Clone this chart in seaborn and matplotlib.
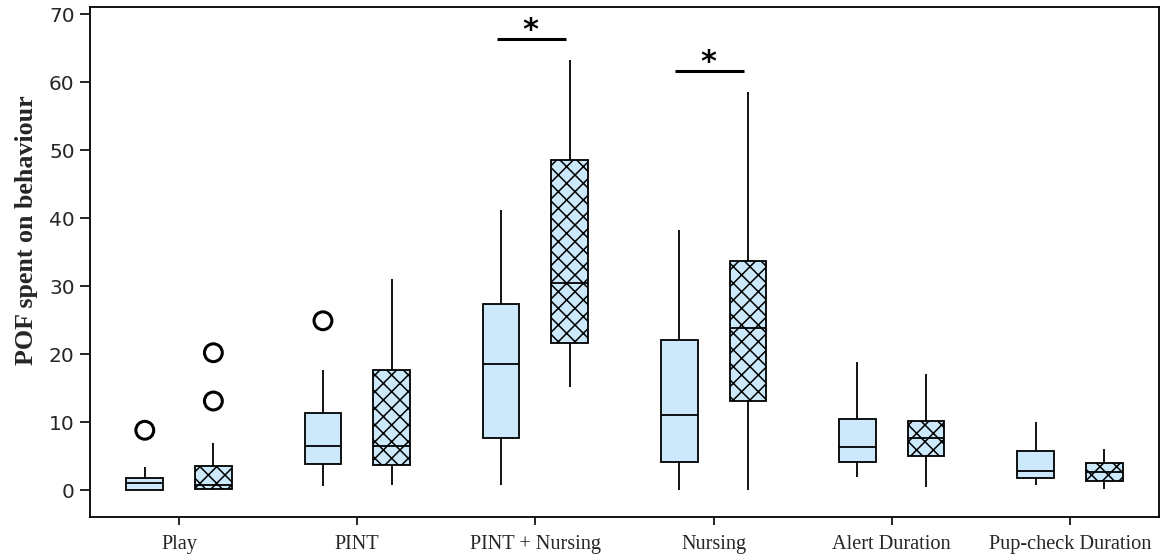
import matplotlib
matplotlib.use("Agg")
import matplotlib.pyplot as plt
import numpy as np
import pandas as pd
import seaborn as sns

# Behaviour categories along the x axis
behaviours = ["Play", "PINT", "PINT + Nursing", "Nursing",
              "Alert Duration", "Pup-check Duration"]
groups = ["Group 1", "Group 2"]

# Five-number summaries (lower whisker, Q1, median, Q3, upper whisker)
group1_stats = [
    [0.0, 0.0, 1.1, 1.8, 3.4],     # Play
    [0.6, 3.9, 6.5, 11.4, 17.7],   # PINT
    [0.7, 7.6, 18.6, 27.4, 41.2],  # PINT + Nursing
    [0.0, 4.2, 11.0, 22.0, 38.2],  # Nursing
    [1.9, 4.1, 6.3, 10.5, 18.9],   # Alert Duration
    [0.7, 1.8, 2.8, 5.8, 10.0],    # Pup-check Duration
]
group2_stats = [
    [0.0, 0.2, 0.8, 3.5, 6.9],     # Play
    [0.7, 3.7, 6.5, 17.6, 31.1],   # PINT
    [15.2, 21.7, 30.4, 48.6, 63.2],  # PINT + Nursing
    [0.0, 13.1, 23.9, 33.7, 58.6],   # Nursing
    [0.5, 5.0, 7.6, 10.1, 17.0],   # Alert Duration
    [0.2, 1.3, 2.6, 4.0, 6.0],     # Pup-check Duration
]

# Outliers: (behaviour index, group index, value)
outlier_behaviour = [0, 0, 0, 1]
outlier_group = [0, 1, 1, 0]
outlier_value = [8.8, 13.1, 20.2, 24.9]

# Significance bars: (behaviour index, bar height)
sig_behaviour = [2, 3]
sig_height = [66.3, 61.6]

y_ticks = [0, 10, 20, 30, 40, 50, 60, 70]

# Long-form table built from the summaries
rows = []
for b, s1, s2 in zip(behaviours, group1_stats, group2_stats):
    for g, s in zip(groups, (s1, s2)):
        for v in s:
            rows.append({"behaviour": b, "group": g, "pof": v})
df = pd.DataFrame(rows)

sns.set_style("ticks")
plt.rcParams["hatch.linewidth"] = 1.1
plt.rcParams["hatch.color"] = "black"

fill = "#CCE9FC"
fig = plt.figure(figsize=(11.7, 5.58), dpi=100)
ax = fig.add_axes([90 / 1170, 1 - 517.3 / 558, (1159 - 90) / 1170, (517.3 - 7.3) / 558])

box_width = 0.77
gap = 0.465
sns.boxplot(data=df, x="behaviour", y="pof", hue="group", order=behaviours,
            hue_order=groups, whis=(0, 100), width=box_width, gap=gap,
            palette=[fill, fill], linecolor="black", linewidth=1.3,
            saturation=1, legend=False, showcaps=False, ax=ax)

# Cross-hatch the second group's boxes
for box in ax.containers[1].boxes:
    box.set_hatch("xx")

# Outlier circles
offset = box_width / 4
ox = [bi + (offset if gi == 1 else -offset) for bi, gi in zip(outlier_behaviour, outlier_group)]
ax.scatter(ox, outlier_value, s=165, facecolors="none", edgecolors="black",
           linewidths=2.2, zorder=5)

# Significance bars with asterisks
for bi, h in zip(sig_behaviour, sig_height):
    ax.plot([bi - offset - 0.025, bi + offset - 0.02], [h, h], color="black", lw=2.2,
            solid_capstyle="butt")
    ax.text(bi - 0.03, h, "*", ha="center", va="baseline", fontsize=22,
            fontweight="bold", color="black")

ax.set_xlim(-0.5, 5.5)
ax.set_ylim(-4, 71)
ax.set_yticks(y_ticks)
ax.set_yticklabels([str(t) for t in y_ticks], fontsize=14.5, family="DejaVu Sans")
ax.set_xticks(range(len(behaviours)))
ax.set_xticklabels(behaviours, fontsize=14.6, family="Liberation Serif")
ax.set_xlabel("")
ax.set_ylabel("POF spent on behaviour", fontsize=18.7, fontweight="bold",
              family="Liberation Serif")
ax.yaxis.set_label_coords(-0.049, 0.563)
ax.tick_params(axis="y", direction="out", length=7, width=1.2, color="black", pad=4)
ax.tick_params(axis="x", direction="out", length=5.5, width=1.2, color="black", pad=7)
for sp in ax.spines.values():
    sp.set_visible(True)
    sp.set_linewidth(1.3)
    sp.set_color("black")

fig.savefig("out.png", dpi=100)
